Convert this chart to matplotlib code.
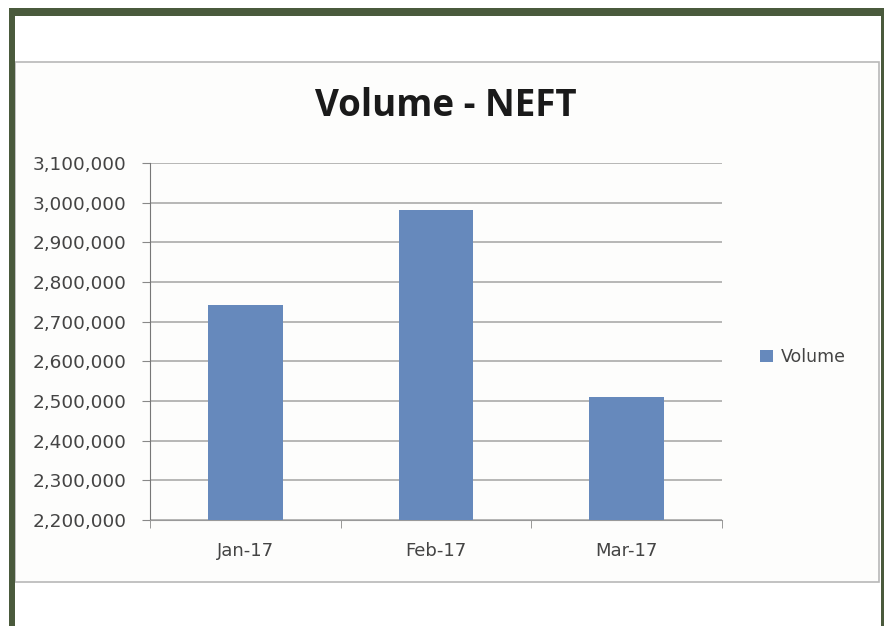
import matplotlib.pyplot as plt
import numpy as np
from matplotlib.patches import Rectangle
from matplotlib.ticker import FuncFormatter, FixedLocator

months = ["Jan-17", "Feb-17", "Mar-17"]
volume = [2742000, 2981000, 2511000]
y_ticks = [2200000, 2300000, 2400000, 2500000, 2600000, 2700000, 2800000, 2900000, 3000000, 3100000]

W, H = 884, 626
fig = plt.figure(figsize=(W / 100, H / 100), dpi=100)
fig.patch.set_facecolor("white")

# chart area and dark green frame
fig.patches.append(Rectangle((15 / W, 1 - 582 / H), (879 - 15) / W, (582 - 62) / H,
                             transform=fig.transFigure, facecolor="#fdfdfc",
                             edgecolor="#b8b8b8", linewidth=1.2, zorder=0))
green = "#4a5a3c"
for x0, y0, w, h in [(9, 8, 875, 8), (9, 8, 6, 618), (881, 8, 3, 618)]:
    fig.patches.append(Rectangle((x0 / W, 1 - (y0 + h) / H), w / W, h / H,
                                 transform=fig.transFigure, facecolor=green,
                                 edgecolor="none", zorder=1))

ax = fig.add_axes([150 / W, 1 - 520 / H, (722 - 150) / W, (520 - 163) / H])
ax.set_zorder(5)
ax.set_facecolor("none")
x = np.arange(len(months))
bars = ax.bar(x, volume, width=0.39, color="#6689bc", zorder=3, label="Volume")

ax.set_xlim(-0.5, 2.5)
ax.set_ylim(2200000, 3100000)
ax.set_yticks(y_ticks)
ax.yaxis.set_major_formatter(FuncFormatter(lambda v, p: f"{int(v):,}"))
ax.grid(axis="y", color="#a3a3a3", linewidth=1.1, zorder=0)

ax.set_xticks(x)
ax.set_xticklabels(months)
ax.xaxis.set_minor_locator(FixedLocator([-0.5, 0.5, 1.5, 2.5]))
ax.tick_params(axis="x", which="major", length=0, pad=16, labelsize=13, colors="#444444")
ax.tick_params(axis="x", which="minor", length=6, color="#888888", direction="out")
ax.tick_params(axis="y", length=6, color="#888888", pad=11, labelsize=13.3, labelcolor="#444444")

for side in ["top", "right"]:
    ax.spines[side].set_visible(False)
ax.spines["left"].set_color("#777777")
ax.spines["bottom"].set_color("#999999")

fig.text(446 / W, 1 - 106 / H, "Volume - NEFT", ha="center", va="center",
         fontsize=26.5, fontweight="bold", color="#1a1a1a", family="Open Sans")

leg = fig.legend(handles=[bars], labels=["Volume"], loc="center left",
                 bbox_to_anchor=(744 / W, 1 - 357 / H), frameon=False, fontsize=12.5,
                 handlelength=0.75, handleheight=0.75, handletextpad=0.5, labelcolor="#444444")
leg.set_zorder(6)

fig.savefig("out.png", dpi=100)
